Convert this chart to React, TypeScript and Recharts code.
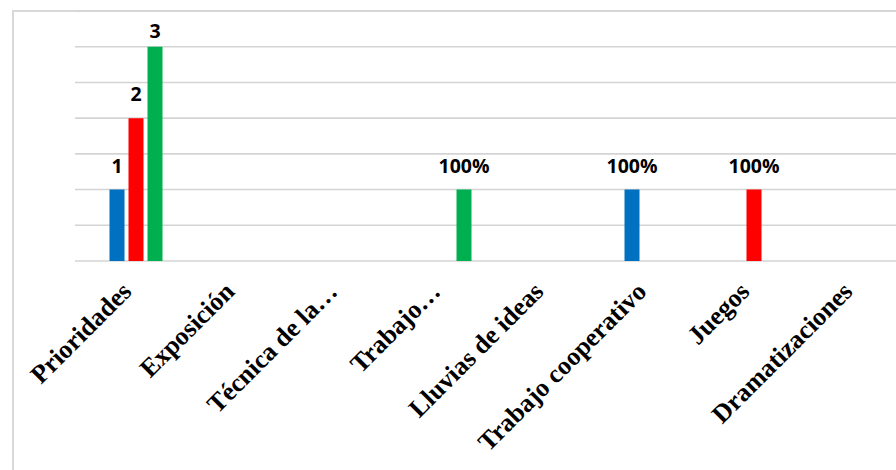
import React from 'react'
import { BarChart, Bar, XAxis, YAxis, CartesianGrid, LabelList } from 'recharts'

const categories = [
  'Prioridades',
  'Exposición',
  'Técnica de la…',
  'Trabajo…',
  'Lluvias de ideas',
  'Trabajo cooperativo',
  'Juegos',
  'Dramatizaciones',
]

const blueValues = [1, null, null, null, null, 1, null, null]
const redValues = [2, null, null, null, null, null, 1, null]
const greenValues = [3, null, null, 1, null, null, null, null]

const blueLabels = ['1', '', '', '', '', '100%', '', '']
const redLabels = ['2', '', '', '', '', '', '100%', '']
const greenLabels = ['3', '', '', '100%', '', '', '', '']

const yTicks = [0, 0.5, 1, 1.5, 2, 2.5, 3, 3.5]

const data = categories.map((name, i) => ({
  name,
  blue: blueValues[i],
  red: redValues[i],
  green: greenValues[i],
  blueLabel: blueLabels[i],
  redLabel: redLabels[i],
  greenLabel: greenLabels[i],
}))

const CategoryTick = (props: any) => {
  const { x, y, payload } = props
  const ax = x - 3
  const ay = y + 32
  return (
    <text
      x={ax}
      y={ay}
      transform={`rotate(-45 ${ax} ${ay})`}
      textAnchor="end"
      fontFamily="'Liberation Serif', 'Times New Roman', serif"
      fontWeight="bold"
      fontSize={26}
      fill="#000"
    >
      {payload.value}
    </text>
  )
}

const ValueLabel = (props: any) => {
  const { x, y, width, value } = props
  if (!value) return null
  const by = Math.max(y - 17, 38)
  return (
    <text
      x={x + width / 2}
      y={by}
      textAnchor="middle"
      fontFamily="'Open Sans', sans-serif"
      fontWeight="bold"
      fontSize={19.5}
      fill="#000"
    >
      {value}
    </text>
  )
}

export default function App() {
  return (
    <div style={{ position: 'absolute', left: 0, top: 0, width: 896, height: 470, overflow: 'hidden', background: '#fff' }}>
      <div
        style={{
          position: 'absolute',
          left: 12,
          top: 10,
          width: 1000,
          height: 600,
          borderLeft: '2px solid #d9d9d9',
          borderTop: '2px solid #d9d9d9',
        }}
      />
      <div style={{ position: 'absolute', left: 0, top: 0 }}>
        <BarChart
          width={920}
          height={470}
          data={data}
          margin={{ top: 11, right: 11.5, left: 75, bottom: 9 }}
          barSize={15}
          barGap={4}
        >
          <CartesianGrid vertical={false} stroke="#d4d4d4" strokeWidth={1.6} />
          <XAxis
            dataKey="name"
            interval={0}
            height={200}
            axisLine={false}
            tickLine={false}
            tickSize={0}
            tickMargin={0}
            padding={{ left: 9.5, right: 0 }}
            tick={<CategoryTick />}
          />
          <YAxis hide domain={[0, 3.5]} ticks={yTicks} width={0} />
          <Bar dataKey="blue" fill="#0070C0" isAnimationActive={false}>
            <LabelList dataKey="blueLabel" content={<ValueLabel />} />
          </Bar>
          <Bar dataKey="red" fill="#FF0000" isAnimationActive={false}>
            <LabelList dataKey="redLabel" content={<ValueLabel />} />
          </Bar>
          <Bar dataKey="green" fill="#00B050" isAnimationActive={false}>
            <LabelList dataKey="greenLabel" content={<ValueLabel />} />
          </Bar>
        </BarChart>
      </div>
    </div>
  )
}
